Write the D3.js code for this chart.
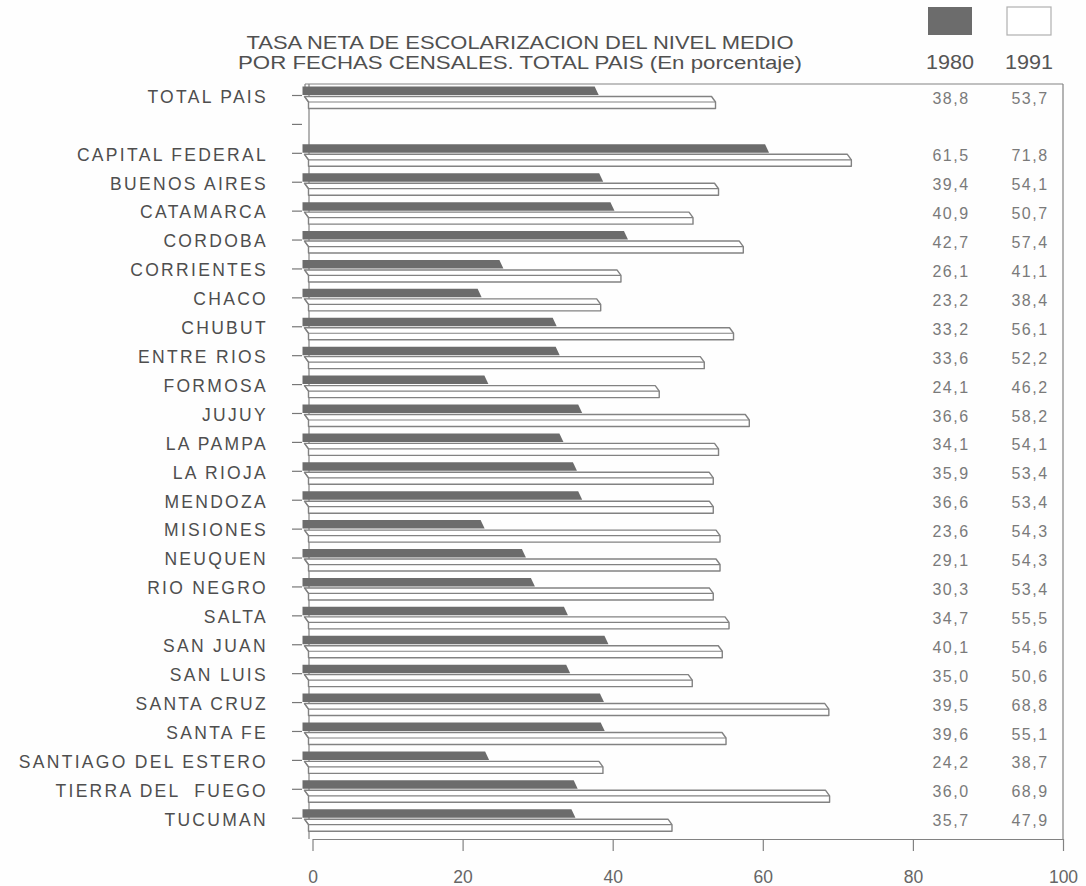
<!DOCTYPE html>
<html>
<head>
<meta charset="utf-8">
<script src="https://cdn.jsdelivr.net/npm/d3@7"></script>
<style>
  html, body { margin: 0; padding: 0; background: #ffffff; }
  svg { display: block; }
  text { white-space: pre; }
</style>
</head>
<body>
<svg id="chart" width="1086" height="886"></svg>
<script>
// ---- Data ----
const categories = [
  "TOTAL PAIS", "",
  "CAPITAL FEDERAL", "BUENOS AIRES", "CATAMARCA", "CORDOBA", "CORRIENTES",
  "CHACO", "CHUBUT", "ENTRE RIOS", "FORMOSA", "JUJUY", "LA PAMPA",
  "LA RIOJA", "MENDOZA", "MISIONES", "NEUQUEN", "RIO NEGRO", "SALTA",
  "SAN JUAN", "SAN LUIS", "SANTA CRUZ", "SANTA FE", "SANTIAGO DEL ESTERO",
  "TIERRA DEL  FUEGO", "TUCUMAN"
];
const values1980 = [
  38.8, null,
  61.5, 39.4, 40.9, 42.7, 26.1, 23.2, 33.2, 33.6, 24.1, 36.6, 34.1,
  35.9, 36.6, 23.6, 29.1, 30.3, 34.7, 40.1, 35.0, 39.5, 39.6, 24.2, 36.0, 35.7
];
const values1991 = [
  53.7, null,
  71.8, 54.1, 50.7, 57.4, 41.1, 38.4, 56.1, 52.2, 46.2, 58.2, 54.1,
  53.4, 53.4, 54.3, 54.3, 53.4, 55.5, 54.6, 50.6, 68.8, 55.1, 38.7, 68.9, 47.9
];
const seriesNames = ["1980", "1991"];
const xTicks = [0, 20, 40, 60, 80, 100];
const titleLines = [
  "TASA NETA DE ESCOLARIZACION DEL NIVEL MEDIO",
  "POR FECHAS CENSALES. TOTAL PAIS (En porcentaje)"
];

// ---- Setup ----
const svg = d3.select("#chart");
const keys = categories.map((c, i) => i);
const x = d3.scaleLinear().domain([0, 100]).range([312.5, 1063]);
const y = d3.scalePoint().domain(keys).range([95, 817.7]);
const locale = d3.formatLocale({decimal: ",", thousands: ".", grouping: [3], currency: ["", ""]});
const fmt = locale.format(".1f");

const darkFill = "#6c6c6c";
const lineCol = "#828282";
const sansBody = "'Liberation Sans', Arial, Helvetica, sans-serif";

svg.append("rect").attr("width", 1086).attr("height", 886).attr("fill", "#fefefe");

// ---- Title ----
svg.append("g").selectAll("text").data(titleLines).join("text")
  .attr("x", 520).attr("y", (d, i) => 42.5 + i * 20.5)
  .attr("dy", "0.36em")
  .attr("text-anchor", "middle")
  .attr("font-family", sansBody)
  .attr("font-size", 18)
  .attr("fill", "#505050")
  .attr("textLength", (d, i) => i === 0 ? 547 : 564)
  .attr("lengthAdjust", "spacingAndGlyphs")
  .text(d => d);

// ---- Legend ----
const legendX = [950, 1029];
const legend = svg.append("g");
legend.selectAll("rect").data(seriesNames).join("rect")
  .attr("x", (d, i) => legendX[i] - 22).attr("y", 7)
  .attr("width", 44).attr("height", 28)
  .attr("fill", (d, i) => i === 0 ? darkFill : "#ffffff")
  .attr("stroke", (d, i) => i === 0 ? "none" : "#b0b0b0")
  .attr("stroke-width", 1.2);
legend.selectAll("text").data(seriesNames).join("text")
  .attr("x", (d, i) => legendX[i]).attr("y", 62)
  .attr("dy", "0.36em")
  .attr("text-anchor", "middle")
  .attr("font-family", sansBody)
  .attr("font-size", 19.5)
  .attr("fill", "#555")
  .attr("textLength", 48)
  .attr("lengthAdjust", "spacingAndGlyphs")
  .text(d => d);

// ---- Frame ----
const frame = svg.append("g").attr("fill", "none").attr("stroke", lineCol).attr("stroke-width", 1.2);
frame.append("line").attr("x1", 305).attr("x2", x(100)).attr("y1", 84).attr("y2", 84);
frame.append("line").attr("x1", x(100)).attr("x2", x(100)).attr("y1", 84).attr("y2", 839);
frame.append("line").attr("x1", 309).attr("x2", 309).attr("y1", 84).attr("y2", 839);
frame.append("path").attr("d", `M305,84 L305,90`);

// ---- Left axis (category ticks + labels) ----
const yAxis = d3.axisLeft(y).tickSize(10).tickPadding(24)
  .tickFormat(i => categories[i]);
const gy = svg.append("g").attr("transform", "translate(302,0)").call(yAxis);
gy.select(".domain").remove();
gy.selectAll(".tick line").attr("stroke", "#777").attr("stroke-width", 1.2);
gy.selectAll(".tick text")
  .attr("font-family", sansBody)
  .attr("font-size", 17.5)
  .attr("letter-spacing", 2.3)
  .attr("fill", "#4e4e4e")
  .attr("dy", "0.42em");

// ---- Bars ----
const rows = keys.filter(i => values1980[i] !== null);
const bars = svg.append("g");

// 1980 dark bars (back plane, slanted end)
bars.selectAll("path.b80").data(rows).join("path")
  .attr("class", "b80")
  .attr("fill", darkFill)
  .attr("d", i => {
    const yt = y(i), xe = x(values1980[i]);
    const x0 = x(0) - 10;
    return `M${x0},${yt - 8.5} L${xe - 9},${yt - 8.5} L${xe - 5},${yt} L${x0},${yt} Z`;
  });

// 1991 white 3D bars
bars.selectAll("g.b91").data(rows).join("g")
  .attr("class", "b91")
  .each(function(i) {
    const g = d3.select(this);
    const yt = y(i), xe = x(values1991[i]);
    const x0 = x(0) - 8;
    const top = yt + 1.5, mid = yt + 7, bot = yt + 13.5;
    g.append("path")
      .attr("fill", "#ffffff")
      .attr("stroke", lineCol)
      .attr("stroke-width", 1.4)
      .attr("stroke-linejoin", "round")
      .attr("d", `M${x0},${top} L${xe - 4},${top} L${xe},${mid} L${xe},${bot} L${x0 + 4},${bot} L${x0 + 4},${mid} Z`);
    g.append("path")
      .attr("fill", "none")
      .attr("stroke", lineCol)
      .attr("stroke-width", 1.2)
      .attr("d", `M${x0},${top} L${x0 + 4},${mid} L${xe},${mid}`);
  });

// ---- Bottom axis ----
const xAxis = d3.axisBottom(x).tickValues(xTicks).tickSize(12).tickSizeOuter(0).tickPadding(20);
const gx = svg.append("g").attr("transform", "translate(0,839)").call(xAxis);
gx.select(".domain").attr("stroke", lineCol).attr("stroke-width", 1.2);
gx.selectAll(".tick line").attr("stroke", lineCol).attr("stroke-width", 1.2);
gx.selectAll(".tick text")
  .attr("font-family", sansBody)
  .attr("font-size", 17.5)
  .attr("fill", "#666");

// ---- Value columns ----
const valueCols = [values1980, values1991];
valueCols.forEach((vals, s) => {
  svg.append("g").selectAll("text").data(rows).join("text")
    .attr("x", legendX[s] + 1).attr("y", i => y(i) + 3)
    .attr("dy", "0.35em")
    .attr("text-anchor", "middle")
    .attr("font-family", sansBody)
    .attr("font-size", 16)
    .attr("letter-spacing", 1.5)
    .attr("fill", "#7a7a7a")
    .text(i => fmt(vals[i]));
});
</script>
</body>
</html>
